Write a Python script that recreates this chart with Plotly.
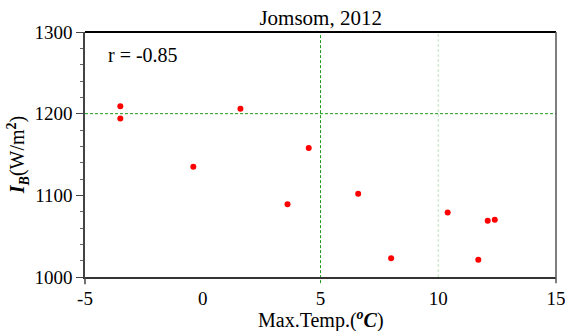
import plotly.graph_objects as go

max_temp = [-3.5, -3.5, 1.6, -0.4, 4.5, 3.6, 6.6, 8.0, 10.4, 11.7, 12.1, 12.4]
ib_values = [1209, 1194, 1206, 1135, 1158, 1089, 1102, 1023, 1079, 1021, 1069, 1070]
x_ticks = [-5, 0, 5, 10, 15]
x_tick_labels = ["-5", "0", "5", "10", "15"]
y_ticks = [1000, 1100, 1200, 1300]

FONT = "'Liberation Serif', 'Times New Roman', serif"

fig = go.Figure()
fig.add_trace(go.Scatter(
    x=max_temp, y=ib_values, mode="markers",
    marker=dict(color="#ff0000", size=6, line=dict(width=0)),
    showlegend=False, cliponaxis=False,
))

fig.update_layout(
    width=565, height=331,
    margin=dict(l=85, r=9, t=32, b=54),
    plot_bgcolor="white", paper_bgcolor="white",
    font=dict(family=FONT, size=19, color="black"),
    title=dict(text="Jomsom, 2012", x=0.5675, xanchor="center", y=0.948, yanchor="middle",
               font=dict(family=FONT, size=21, color="black")),
    xaxis=dict(range=[-5, 15], tickvals=x_ticks, ticktext=x_tick_labels,
               showgrid=False, zeroline=False, automargin=False,
               ticklabeloverflow="allow",
               showline=True, linecolor="#333333", linewidth=2,
               ticks="outside", ticklen=3, tickcolor="rgba(0,0,0,0)",
               tickfont=dict(family=FONT, size=19)),
    yaxis=dict(range=[1000, 1300], tickvals=y_ticks, showgrid=False, zeroline=False,
               automargin=False,
               showline=True, linecolor="#444444", linewidth=1.5,
               ticks="outside", ticklen=7, tickcolor="#444444",
               minor=dict(dtick=20, ticks="outside", ticklen=3, tickcolor="#666666", showgrid=False),
               tickfont=dict(family=FONT, size=19),
               title=dict(text="<b><i>I<sub>B</sub></i></b>(W/m<sup><b>2</b></sup>)", standoff=4,
                          font=dict(family=FONT, size=20))),
)

# x-axis title
fig.add_annotation(text="Max.Temp.(<b><i><sup>o</sup>C</i></b>)", xref="paper", yref="paper",
                   x=0.5, y=-0.172, xanchor="center", yanchor="middle", showarrow=False,
                   font=dict(family=FONT, size=20, color="black"))

# reference grid lines
fig.add_shape(type="line", xref="x", yref="y", x0=-5, x1=15, y0=1200, y1=1200,
              line=dict(color="#1e9a1e", width=1, dash="3px,2px"), layer="below")
fig.add_shape(type="line", xref="x", yref="paper", x0=5, x1=5, y0=-0.025, y1=1,
              line=dict(color="#1e9a1e", width=1, dash="3px,2px"), layer="below")
fig.add_shape(type="line", xref="x", yref="paper", x0=10, x1=10, y0=0, y1=1,
              line=dict(color="#c0e4c0", width=1, dash="3px,2px"), layer="below")
# frame: top thick black, right thin gray, axis extensions below the x axis
fig.add_shape(type="line", xref="paper", yref="paper", x0=0, x1=1, y0=1, y1=1,
              line=dict(color="black", width=2))
fig.add_shape(type="line", xref="paper", yref="paper", x0=1, x1=1, y0=-0.025, y1=1,
              line=dict(color="#555555", width=1.5))
fig.add_shape(type="line", xref="paper", yref="paper", x0=0, x1=0, y0=-0.03, y1=0,
              line=dict(color="#444444", width=1.5))

fig.add_annotation(text="r = -0.85", xref="paper", yref="paper", x=0.045, y=0.905,
                   xanchor="left", yanchor="middle", showarrow=False,
                   font=dict(family=FONT, size=20, color="black"))

fig.write_html("out.html")
